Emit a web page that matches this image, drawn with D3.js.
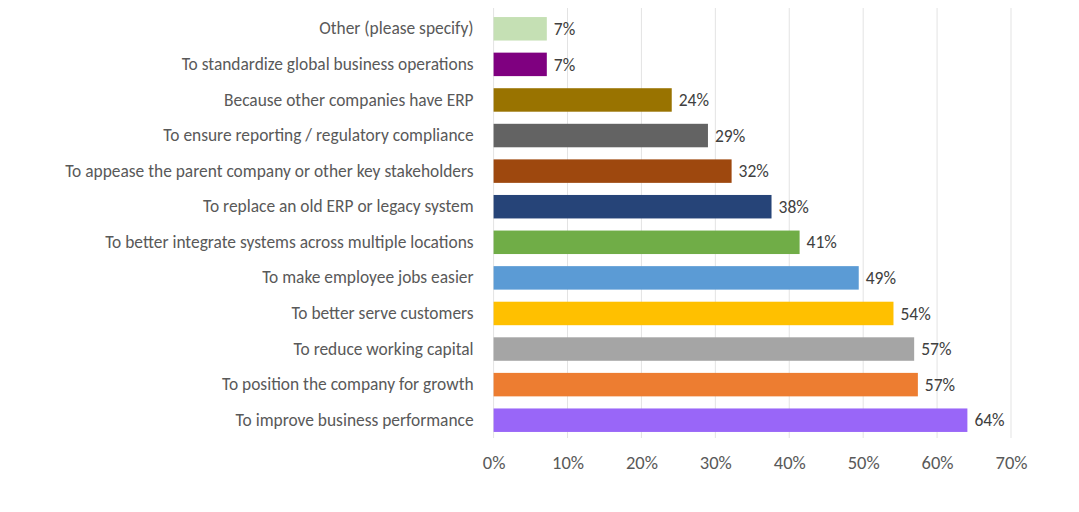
<!DOCTYPE html>
<html><head><meta charset="utf-8">
<script src="https://cdn.jsdelivr.net/npm/d3@7"></script>
<style>body{margin:0;background:#fff}svg{display:block}</style>
</head><body>
<script>
const categories = [
  "Other (please specify)",
  "To standardize global business operations",
  "Because other companies have ERP",
  "To ensure reporting / regulatory compliance",
  "To appease the parent company or other key stakeholders",
  "To replace an old ERP or legacy system",
  "To better integrate systems across multiple locations",
  "To make employee jobs easier",
  "To better serve customers",
  "To reduce working capital",
  "To position the company for growth",
  "To improve business performance"
];
const values = [7.2, 7.2, 24.1, 29.0, 32.2, 37.6, 41.4, 49.4, 54.1, 56.9, 57.4, 64.1];
const colors = ["#c5e0b4","#7f0080","#997300","#636363","#9e480e","#264478","#70ad47","#5b9bd5","#ffc000","#a5a5a5","#ed7d31","#9966f8"];
const ticks = [0,10,20,30,40,50,60,70];

const W = 1079, H = 512;
const svg = d3.select("body").append("svg").attr("width", W).attr("height", H);
const font = "Calibri, Carlito, Lato, 'Open Sans', sans-serif";

const x = d3.scaleLinear().domain([0,70]).range([493.6, 1011]);
const y = d3.scaleBand().domain(categories).range([11, 438]).paddingInner(0.34).paddingOuter(0.17);

// gridlines
svg.append("g").selectAll("line").data(ticks).join("line")
  .attr("x1", d => x(d)).attr("x2", d => x(d))
  .attr("y1", 8).attr("y2", 438)
  .attr("stroke", "#e3e3e3").attr("stroke-width", 1);

// bars
svg.append("g").selectAll("rect").data(categories).join("rect")
  .attr("x", x(0)).attr("y", d => y(d))
  .attr("width", (d,i) => x(values[i]) - x(0))
  .attr("height", y.bandwidth())
  .attr("fill", (d,i) => colors[i]);

// value labels
svg.append("g").selectAll("text").data(categories).join("text")
  .attr("x", (d,i) => x(values[i]) + 7)
  .attr("y", d => y(d) + y.bandwidth()/2)
  .attr("dy", "0.35em")
  .attr("font-family", font).attr("font-size", 17.5).attr("fill", "#404040")
  .text((d,i) => Math.round(values[i]) + "%");

// category axis
const yAxis = d3.axisLeft(y).tickSize(0).tickPadding(20);
const gy = svg.append("g").attr("transform", `translate(${x(0)},0)`).call(yAxis);
gy.select(".domain").remove();
gy.selectAll("text").attr("font-family", font).attr("font-size", 17.4).attr("fill", "#595959");

// x axis
const xAxis = d3.axisBottom(x).tickValues(ticks).tickSize(0).tickPadding(18).tickFormat(d => d + "%");
const gx = svg.append("g").attr("transform", `translate(0,438)`).call(xAxis);
gx.select(".domain").remove();
gx.selectAll("text").attr("font-family", font).attr("font-size", 18.5).attr("fill", "#595959");
</script>
</body></html>
